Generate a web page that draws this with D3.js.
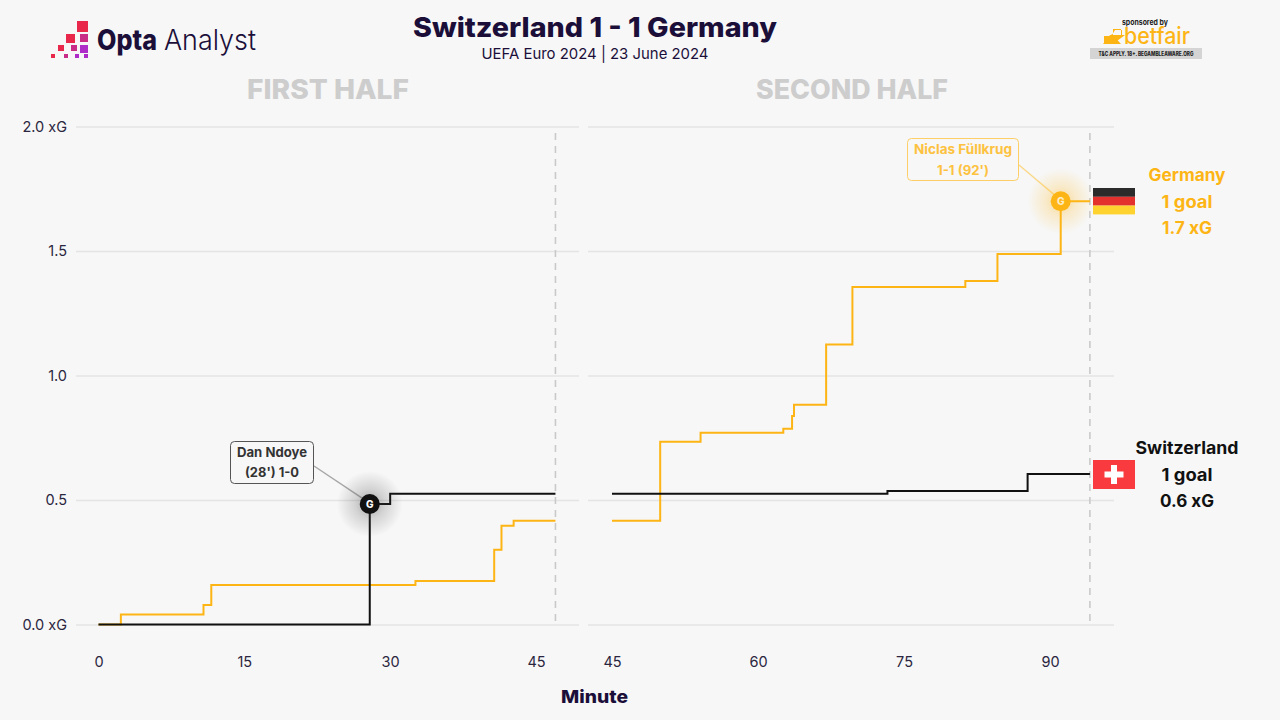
<!DOCTYPE html>
<html>
<head>
<meta charset="utf-8">
<script src="https://cdn.jsdelivr.net/npm/d3@7"></script>
<style>
  html, body { margin: 0; padding: 0; background: #f7f7f7; }
  svg { display: block; }
  text { font-family: Inter, Roboto, sans-serif; }
  .tick text { font-size: 14.5px; fill: #2b2640; font-family: Inter, sans-serif; }
  .axis .domain { display: none; }
</style>
</head>
<body>
<svg id="chart" width="1280" height="720"></svg>
<script>
const yTicks = [0, 0.5, 1, 1.5, 2];
const firstHalfTicks = [0, 15, 30, 45];
const secondHalfTicks = [45, 60, 75, 90];

const firstHalfEnd = 47;
const secondHalfEnd = 94.1;

const germanyFirstMinutes = [0, 2.3, 10.8, 11.6, 32.6, 40.7, 41.45, 42.7, 47];
const germanyFirstXg = [0, 0.04, 0.078, 0.159, 0.175, 0.3, 0.397, 0.417, 0.417];
const swissFirstMinutes = [0, 27.9, 30, 47];
const swissFirstXg = [0, 0.484, 0.525, 0.525];

const germanySecondMinutes = [45, 49.95, 54.1, 62.6, 63.5, 63.7, 67, 69.7, 81.3, 84.6, 91.1, 94.1];
const germanySecondXg = [0.417, 0.734, 0.77, 0.786, 0.837, 0.883, 1.125, 1.355, 1.38, 1.488, 1.7, 1.7];
const swissSecondMinutes = [45, 73.3, 87.7, 94.1];
const swissSecondXg = [0.525, 0.536, 0.604, 0.604];

const germanyColor = '#fdb515';
const swissColor = '#111111';
const inkColor = '#1b0f3a';

const svg = d3.select('#chart');
svg.append('rect').attr('width', 1280).attr('height', 720).attr('fill', '#f7f7f7');

const defs = svg.append('defs');
function addGlow(id, color) {
  const g = defs.append('radialGradient').attr('id', id);
  g.append('stop').attr('offset', '0%').attr('stop-color', color).attr('stop-opacity', 0.45);
  g.append('stop').attr('offset', '45%').attr('stop-color', color).attr('stop-opacity', 0.2);
  g.append('stop').attr('offset', '100%').attr('stop-color', color).attr('stop-opacity', 0);
}
addGlow('glowBlack', '#444444');
addGlow('glowYellow', '#fdb515');

const y = d3.scaleLinear().domain([0, 2]).range([624.5, 126.5]);
const xFirst = d3.scaleLinear().domain([0, 45]).range([98.5, 536]);
const xSecond = d3.scaleLinear().domain([45, 90]).range([612, 1050]);

function drawGrid(left, right, showLabels) {
  const axis = d3.axisLeft(y)
    .tickValues(yTicks)
    .tickSize(-(right - left))
    .tickPadding(9)
    .tickFormat(d => (d === 0 || d === 2) ? d3.format('.1f')(d) + ' xG' : d3.format('.1f')(d));
  const g = svg.append('g')
    .attr('class', 'axis')
    .attr('transform', `translate(${left},0)`)
    .call(axis);
  g.selectAll('.tick line').attr('stroke', '#e4e4e4').attr('stroke-width', 1.6);
  if (!showLabels) g.selectAll('.tick text').remove();
}
drawGrid(76, 579, true);
drawGrid(588, 1114, false);

function drawMinutes(x, ticks) {
  const g = svg.append('g')
    .attr('class', 'axis')
    .attr('transform', 'translate(0,647)')
    .call(d3.axisBottom(x).tickValues(ticks).tickSize(0).tickPadding(10));
  return g;
}
drawMinutes(xFirst, firstHalfTicks);
drawMinutes(xSecond, secondHalfTicks);

// half end markers
[[xFirst, firstHalfEnd], [xSecond, secondHalfEnd]].forEach(([x, m]) => {
  svg.append('line')
    .attr('x1', x(m)).attr('x2', x(m))
    .attr('y1', 133).attr('y2', 624)
    .attr('stroke', '#c9c9c9').attr('stroke-width', 1.6)
    .attr('stroke-dasharray', '7 6');
});

function drawStep(x, minutes, xg, color) {
  const line = d3.line()
    .x(d => x(d[0]))
    .y(d => y(d[1]))
    .curve(d3.curveStepAfter);
  svg.append('path')
    .datum(d3.zip(minutes, xg))
    .attr('d', line)
    .attr('fill', 'none')
    .attr('stroke', color)
    .attr('stroke-width', 2);
}
drawStep(xFirst, germanyFirstMinutes, germanyFirstXg, germanyColor);
drawStep(xSecond, germanySecondMinutes, germanySecondXg, germanyColor);
drawStep(xFirst, swissFirstMinutes, swissFirstXg, swissColor);
drawStep(xSecond, swissSecondMinutes, swissSecondXg, swissColor);

function addText(str, x, yPos, size, weight, color, width, parent) {
  const t = (parent || svg).append('text')
    .attr('x', x).attr('y', yPos)
    .attr('text-anchor', 'middle')
    .attr('font-size', size)
    .attr('font-weight', weight)
    .attr('fill', color)
    .text(str);
  if (width) t.attr('textLength', width).attr('lengthAdjust', 'spacingAndGlyphs');
  return t;
}

function drawGoal(px, py, color, glow, letterColor) {
  svg.append('circle').attr('cx', px).attr('cy', py).attr('r', 33).attr('fill', `url(#${glow})`);
  svg.append('circle').attr('cx', px).attr('cy', py).attr('r', 10).attr('fill', color);
  addText('G', px, py + 3.6, 10, 800, letterColor);
}

// Ndoye callout
const ndoyeX = xFirst(swissFirstMinutes[1]);
const ndoyeY = y(swissFirstXg[1]);
svg.append('line').attr('x1', 314).attr('y1', 466).attr('x2', ndoyeX - 8).attr('y2', ndoyeY - 6)
  .attr('stroke', '#a8a8a8').attr('stroke-width', 1.5);
drawGoal(ndoyeX, ndoyeY, swissColor, 'glowBlack', '#ffffff');
svg.append('rect').attr('x', 230.5).attr('y', 441.5).attr('width', 83).attr('height', 42).attr('rx', 4)
  .attr('fill', '#f7f7f7').attr('stroke', '#555555').attr('stroke-width', 1);
addText('Dan Ndoye', 272, 457, 13, 700, '#333333', 70);
addText("(28') 1-0", 272, 477, 13, 700, '#333333', 54);

// Fullkrug callout
const fullkrugX = xSecond(germanySecondMinutes[10]);
const fullkrugY = y(germanySecondXg[10]);
svg.append('line').attr('x1', 1019).attr('y1', 165).attr('x2', fullkrugX - 7).attr('y2', fullkrugY - 7)
  .attr('stroke', '#fbd98a').attr('stroke-width', 1.5);
drawGoal(fullkrugX, fullkrugY, germanyColor, 'glowYellow', '#fdeec8');
svg.append('rect').attr('x', 907.5).attr('y', 138.5).attr('width', 111).attr('height', 42).attr('rx', 4)
  .attr('fill', '#f7f7f7').attr('stroke', '#fdcf66').attr('stroke-width', 1);
addText('Niclas Füllkrug', 963, 154, 13, 700, '#fdc23f', 98);
addText("1-1 (92')", 963, 175, 13, 700, '#fdc23f', 52);

// headers
addText('Switzerland 1 - 1 Germany', 595, 37, 27, 800, inkColor, 364);
addText('UEFA Euro 2024 | 23 June 2024', 595, 59, 15, 400, inkColor, 227);
addText('FIRST HALF', 328, 99, 27, 800, '#cdcdcd', 162);
addText('SECOND HALF', 852, 99, 27, 800, '#cdcdcd', 192);
addText('Minute', 594.5, 703, 18, 800, inkColor, 67);

// team labels
addText('Germany', 1187, 181, 17, 700, germanyColor, 77);
addText('1 goal', 1187, 208, 17, 700, germanyColor, 51);
addText('1.7 xG', 1187, 234, 17, 700, germanyColor, 50);
addText('Switzerland', 1187, 454, 17, 700, swissColor, 103);
addText('1 goal', 1187, 481, 17, 700, swissColor, 51);
addText('0.6 xG', 1187, 507, 17, 700, swissColor, 54);

// flags
const germanBands = ['#2b2b2b', '#e3312d', '#fed22f'];
svg.selectAll('.band').data(germanBands).enter().append('rect')
  .attr('x', 1093).attr('y', (d, i) => 188 + i * 8.8)
  .attr('width', 42).attr('height', 8.8)
  .attr('fill', d => d);
svg.append('rect').attr('x', 1093).attr('y', 460).attr('width', 42).attr('height', 29).attr('fill', '#f93a3e');
svg.append('rect').attr('x', 1104.5).attr('y', 471.5).attr('width', 19).attr('height', 6).attr('fill', '#ffffff');
svg.append('rect').attr('x', 1111).attr('y', 465).attr('width', 6).attr('height', 19).attr('fill', '#ffffff');

// Opta Analyst logo
const logoSquares = [
  [77, 21, 11, '#e8274b'], [66, 34, 9, '#e8274b'], [80, 34, 8, '#c82c86'],
  [58, 45, 6, '#e8274b'], [71, 45, 6, '#c82c86'], [80, 45, 8, '#ae2cc8'],
  [51, 54, 4, '#e8274b'], [64, 54, 4, '#c82c86'], [75, 54, 4, '#ae2cc8'], [84, 54, 4, '#ae2cc8']
];
svg.selectAll('.logo').data(logoSquares).enter().append('rect')
  .attr('x', d => d[0]).attr('y', d => d[1])
  .attr('width', d => d[2]).attr('height', d => d[2])
  .attr('fill', d => d[3]);
svg.append('text').attr('x', 97).attr('y', 50).attr('font-size', 28).attr('font-weight', 800)
  .attr('fill', inkColor).attr('textLength', 60).attr('lengthAdjust', 'spacingAndGlyphs').text('Opta');
svg.append('text').attr('x', 164).attr('y', 50).attr('font-size', 28).attr('font-weight', 300)
  .attr('fill', inkColor).attr('textLength', 92).attr('lengthAdjust', 'spacingAndGlyphs').text('Analyst');

// betfair sponsor block
addText('sponsored by', 1145, 25, 8, 700, '#1a1a1a', 46);
addText('betfair', 1157, 44, 23, 500, germanyColor, 66);
svg.append('path').attr('d', 'M1103 44 L1112 34 L1121 44 Z M1103 38 Z').attr('fill', germanyColor);
svg.append('rect').attr('x', 1104).attr('y', 36).attr('width', 8).attr('height', 8).attr('fill', germanyColor);
svg.append('path').attr('d', 'M1112 35 L1122 35 L1122 30 L1115 30 Z M1113 29 L1121 29 L1121 35 L1125 35 L1117 41 L1109 35 L1113 35 Z').attr('fill', germanyColor);
svg.append('rect').attr('x', 1090).attr('y', 48).attr('width', 112).attr('height', 11).attr('fill', '#d4d4d4');
addText('T&C APPLY. 18+. BEGAMBLEAWARE.ORG', 1146, 56, 6, 800, '#222222', 95);
</script>
</body>
</html>
